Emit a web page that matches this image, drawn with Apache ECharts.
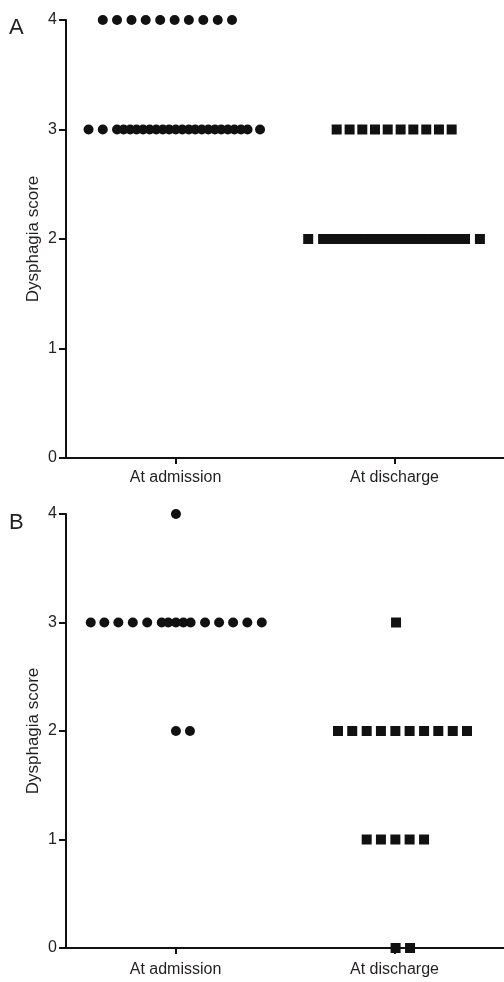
<!DOCTYPE html>
<html>
<head>
<meta charset="utf-8">
<script src="https://cdn.jsdelivr.net/npm/echarts@6/dist/echarts.min.js"></script>
<style>
    html, body { margin: 0; padding: 0; background: #fff; }
    #chart { width: 504px; height: 982px; }
</style>
</head>
<body>
<div id="chart"></div>
<script>
// 两组分类
const categories = ['At admission', 'At discharge'];
const yTicks = [0, 1, 2, 3, 4];

// 每个点相对于分类中心的水平偏移（单位：分类宽度）
// 面板 A - 入院
const aAdmission4 = [-0.332, -0.267, -0.201, -0.136, -0.070, -0.004, 0.061, 0.127, 0.193, 0.258];
const aAdmission3 = [-0.397, -0.332, -0.267, -0.237, -0.207, -0.178, -0.148, -0.118, -0.088, -0.058,
    -0.029, 0.001, 0.031, 0.061, 0.090, 0.120, 0.150, 0.180, 0.209, 0.239, 0.269, 0.299, 0.329, 0.386];
// 面板 A - 出院
const aDischarge3 = [-0.264, -0.205, -0.147, -0.089, -0.031, 0.028, 0.086, 0.145, 0.203, 0.261];
const aDischarge2 = [-0.394, -0.326, -0.294, -0.261, -0.229, -0.196, -0.164, -0.132, -0.099, -0.067,
    -0.034, -0.002, 0.030, 0.063, 0.095, 0.128, 0.160, 0.192, 0.225, 0.257, 0.290, 0.322, 0.390];

// 面板 B - 入院
const bAdmission4 = [0.002];
const bAdmission3 = [-0.387, -0.325, -0.261, -0.195, -0.129, -0.063, -0.033, 0.002, 0.036, 0.069,
    0.135, 0.199, 0.263, 0.328, 0.394];
const bAdmission2 = [0.002, 0.066];
// 面板 B - 出院
const bDischarge3 = [0.007];
const bDischarge2 = [-0.258, -0.193, -0.127, -0.062, 0.004, 0.069, 0.135, 0.200, 0.266, 0.331];
const bDischarge1 = [-0.127, -0.062, 0.004, 0.069, 0.135];
const bDischarge0 = [0.005, 0.071];

const FONT = 'Liberation Sans, Arial, sans-serif';
const TEXT = '#231f20';
const INK = '#111';

// 把偏移量转为坐标点
function toPoints(catIndex, score, offsets) {
    return offsets.map(o => [catIndex + 0.5 + o, score]);
}

const panelA = {
    admission: [].concat(toPoints(0, 4, aAdmission4), toPoints(0, 3, aAdmission3)),
    discharge: [].concat(toPoints(1, 3, aDischarge3), toPoints(1, 2, aDischarge2))
};
const panelB = {
    admission: [].concat(toPoints(0, 4, bAdmission4), toPoints(0, 3, bAdmission3), toPoints(0, 2, bAdmission2)),
    discharge: [].concat(toPoints(1, 3, bDischarge3), toPoints(1, 2, bDischarge2),
        toPoints(1, 1, bDischarge1), toPoints(1, 0, bDischarge0))
};

function catAxis(gridIndex, margin) {
    return {
        type: 'category',
        gridIndex: gridIndex,
        data: categories,
        boundaryGap: true,
        axisLine: { show: true, lineStyle: { color: INK, width: 2 } },
        axisTick: { show: true, alignWithLabel: true, length: 6, lineStyle: { color: INK, width: 2 } },
        axisLabel: { color: TEXT, fontSize: 16, fontFamily: FONT, margin: margin },
        splitLine: { show: false }
    };
}

function valXAxis(gridIndex) {
    return {
        type: 'value', gridIndex: gridIndex, min: 0, max: 2, show: false
    };
}

function yAxis(gridIndex) {
    return {
        type: 'value',
        gridIndex: gridIndex,
        min: 0, max: 4, interval: 1,
        name: 'Dysphagia score',
        nameLocation: 'middle',
        nameGap: 24,
        nameMoveOverlap: false,
        nameTextStyle: { color: TEXT, fontSize: 17, fontFamily: FONT },
        axisLine: { show: true, lineStyle: { color: INK, width: 2 } },
        axisTick: { show: true, length: 7, lineStyle: { color: INK, width: 2 } },
        axisLabel: { color: TEXT, fontSize: 16, fontFamily: FONT, margin: 9,
            formatter: v => yTicks.includes(v) ? String(v) : '' },
        splitLine: { show: false }
    };
}

function scatter(data, xIdx, yIdx, symbol, size) {
    return {
        type: 'scatter',
        xAxisIndex: xIdx,
        yAxisIndex: yIdx,
        symbol: symbol,
        symbolSize: size,
        itemStyle: { color: INK, opacity: 1 },
        data: data,
        silent: true,
        z: 5
    };
}

const chart = echarts.init(document.getElementById('chart'), null, { renderer: 'canvas' });

chart.setOption({
    animation: false,
    backgroundColor: '#fff',
    grid: [
        { left: 66, right: 0, top: 20, height: 438 },
        { left: 66, right: 0, top: 514, height: 434 }
    ],
    xAxis: [catAxis(0, 12), catAxis(1, 14), valXAxis(0), valXAxis(1)],
    yAxis: [yAxis(0), yAxis(1)],
    graphic: [
        { type: 'text', left: 9, top: 17, style: { text: 'A', fontSize: 22, fontFamily: FONT, fill: TEXT } },
        { type: 'text', left: 9, top: 512, style: { text: 'B', fontSize: 22, fontFamily: FONT, fill: TEXT } }
    ],
    series: [
        scatter(panelA.admission, 2, 0, 'circle', 10),
        scatter(panelA.discharge, 2, 0, 'rect', 10),
        scatter(panelB.admission, 3, 1, 'circle', 10),
        scatter(panelB.discharge, 3, 1, 'rect', 10)
    ]
});
</script>
</body>
</html>
